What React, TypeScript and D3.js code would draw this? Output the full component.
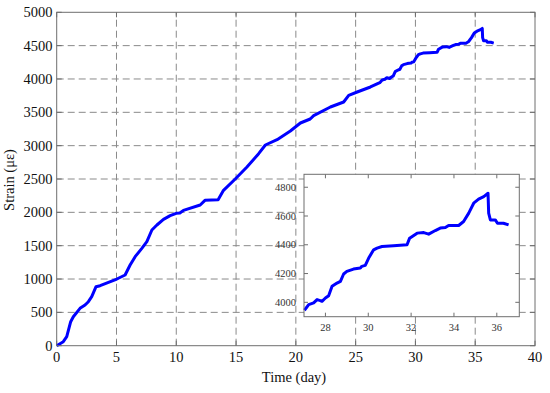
import React from 'react';
import * as d3 from 'd3';

// Strain record (days, microstrain)
const timeDays = [
  0, 0.55, 0.84, 1.17, 1.39, 1.95, 2.37, 2.65, 2.93, 3.29, 3.63, 5.03, 5.72, 6.14, 6.56, 7.12,
  7.54, 7.96, 8.38, 8.93, 9.49, 9.99, 10.3, 10.6, 12.0, 12.4, 13.5, 13.95, 14.93, 15.91, 16.89,
  17.45, 18.43, 19.54, 20.38, 21.2, 21.49, 22.89, 24.0, 24.42, 25.13, 26.24,
  27.02, 27.22, 27.45, 27.61, 27.76, 27.84, 28.0, 28.15, 28.31, 28.54, 28.7, 28.85, 29.0, 29.31,
  29.63, 29.7, 29.86, 30.02, 30.25, 30.41, 30.64, 31.18, 31.81, 31.93, 32.28, 32.59, 32.82,
  33.13, 33.36, 33.6, 33.75, 34.22, 34.45, 34.69, 34.92, 35.15, 35.39, 35.59, 35.62, 35.7,
  35.93, 36.03, 36.31, 36.55,
];
const strain = [
  0, 60, 135, 360, 435, 560, 610, 660, 735, 885, 900, 1000, 1060, 1210, 1335, 1460,
  1560, 1735, 1810, 1895, 1950, 1985, 1990, 2030, 2110, 2180, 2190, 2330, 2500, 2680, 2880,
  3010, 3090, 3220, 3340, 3400, 3450, 3580, 3655, 3755, 3805, 3880,
  3945, 3984, 3996, 4019, 4012, 4007, 4030, 4046, 4111, 4134, 4146, 4197, 4215, 4231,
  4238, 4250, 4257, 4308, 4365, 4377, 4388, 4393, 4400, 4446, 4481, 4485, 4474,
  4499, 4516, 4520, 4534, 4534, 4562, 4620, 4689, 4717, 4735, 4758, 4620, 4573,
  4573, 4550, 4550, 4538,
];

const xTicks = [0, 5, 10, 15, 20, 25, 30, 35, 40];
const yTicks = [0, 500, 1000, 1500, 2000, 2500, 3000, 3500, 4000, 4500, 5000];
const insetXTicks = [28, 30, 32, 34, 36];
const insetYTicks = [4000, 4200, 4400, 4600, 4800];

const font = '"Liberation Serif", "Times New Roman", serif';
const frameColor = '#6e6e6e';
const gridColor = '#8a8a8a';

export default function App() {
  const points = timeDays.map((t, i) => ({ t, v: strain[i] }));

  // main axes
  const x = d3.scaleLinear().domain([0, 40]).range([56.7, 535]);
  const y = d3.scaleLinear().domain([0, 5000]).range([345.7, 12.3]);
  const line = d3.line<{ t: number; v: number }>().x(d => x(d.t)).y(d => y(d.v));

  // inset axes
  const ix = d3.scaleLinear().domain([27, 37.05]).range([304, 519.3]);
  const iy = d3.scaleLinear().domain([3900, 4890]).range([316.7, 174.3]);
  const insetPts = points.filter(d => d.t >= 27);
  const insetLine = d3.line<{ t: number; v: number }>().x(d => ix(d.t)).y(d => iy(d.v));

  const [x0, x1] = x.range();
  const [y0, y1] = y.range();
  const [ix0, ix1] = ix.range();
  const [iy0, iy1] = iy.range();
  const tk = 5;
  const itk = 4;

  return (
    <svg width={550} height={393} style={{ position: 'absolute', left: 0, top: 0, background: '#fff' }}>
      {/* grid */}
      <g stroke={gridColor} strokeWidth={1} strokeDasharray="7,4">
        {xTicks.slice(1, -1).map(t => (
          <line key={'gx' + t} x1={x(t)} x2={x(t)} y1={y0} y2={y1} />
        ))}
        {yTicks.slice(1, -1).map(v => (
          <line key={'gy' + v} x1={x0} x2={x1} y1={y(v)} y2={y(v)} />
        ))}
      </g>

      {/* main ticks */}
      <g stroke={frameColor} strokeWidth={1}>
        {xTicks.map(t => (
          <g key={'tx' + t}>
            <line x1={x(t)} x2={x(t)} y1={y0} y2={y0 - tk} />
            <line x1={x(t)} x2={x(t)} y1={y1} y2={y1 + tk} />
          </g>
        ))}
        {yTicks.map(v => (
          <g key={'ty' + v}>
            <line x1={x0} x2={x0 + tk} y1={y(v)} y2={y(v)} />
            <line x1={x1} x2={x1 - tk} y1={y(v)} y2={y(v)} />
          </g>
        ))}
      </g>

      <path d={line(points) || ''} fill="none" stroke="#0000ff" strokeWidth={3} strokeLinejoin="round" />

      <rect x={x0} y={y1} width={x1 - x0} height={y0 - y1} fill="none" stroke={frameColor} strokeWidth={1} />

      {/* main tick labels */}
      <g fontFamily={font} fontSize={14.5} fill="#111">
        {xTicks.map(t => (
          <text key={'lx' + t} x={x(t)} y={362} textAnchor="middle">{t}</text>
        ))}
        {yTicks.map(v => (
          <text key={'ly' + v} x={52.5} y={y(v) + 5} textAnchor="end">{v}</text>
        ))}
      </g>
      <text x={294} y={382} textAnchor="middle" fontFamily={font} fontSize={14.5} fill="#111">Time (day)</text>
      <text transform="translate(14,180) rotate(-90)" textAnchor="middle" fontFamily={font} fontSize={14.5} fill="#111">
        Strain (με)
      </text>

      {/* inset */}
      <rect x={ix0} y={iy1} width={ix1 - ix0} height={iy0 - iy1} fill="#fff" />
      <g stroke={frameColor} strokeWidth={1}>
        {insetXTicks.map(t => (
          <g key={'itx' + t}>
            <line x1={ix(t)} x2={ix(t)} y1={iy0} y2={iy0 - itk} />
            <line x1={ix(t)} x2={ix(t)} y1={iy1} y2={iy1 + itk} />
          </g>
        ))}
        {insetYTicks.map(v => (
          <g key={'ity' + v}>
            <line x1={ix0} x2={ix0 + itk} y1={iy(v)} y2={iy(v)} />
            <line x1={ix1} x2={ix1 - itk} y1={iy(v)} y2={iy(v)} />
          </g>
        ))}
      </g>
      <path d={insetLine(insetPts) || ''} fill="none" stroke="#0000ff" strokeWidth={3} strokeLinejoin="round" />
      <rect x={ix0} y={iy1} width={ix1 - ix0} height={iy0 - iy1} fill="none" stroke={frameColor} strokeWidth={1} />
      <g fontFamily={font} fontSize={10.5} fill="#333">
        {insetXTicks.map(t => (
          <text key={'ilx' + t} x={ix(t)} y={331} textAnchor="middle">{t}</text>
        ))}
        {insetYTicks.map(v => (
          <text key={'ily' + v} x={296} y={iy(v) + 3.5} textAnchor="end">{v}</text>
        ))}
      </g>
    </svg>
  );
}
